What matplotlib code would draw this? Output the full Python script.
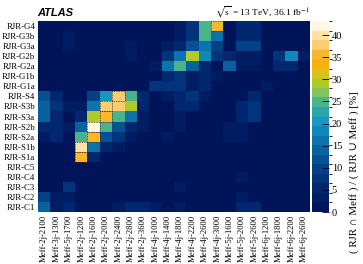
import numpy as np
import matplotlib
matplotlib.use("Agg")
import matplotlib.pyplot as plt
from matplotlib.colors import LinearSegmentedColormap, BoundaryNorm
from matplotlib.patches import Rectangle

plt.rcParams["mathtext.fontset"] = "stix"

x_labels = ["Meff-2j-2100", "Meff-3j-1300", "Meff-5j-1700", "Meff-2j-1200", "Meff-2j-1600",
            "Meff-2j-2000", "Meff-2j-2400", "Meff-2j-2800", "Meff-2j-3600", "Meff-4j-1000",
            "Meff-4j-1400", "Meff-4j-1800", "Meff-4j-2200", "Meff-4j-2600", "Meff-4j-3000",
            "Meff-5j-1600", "Meff-5j-2000", "Meff-5j-2600", "Meff-6j-1200", "Meff-6j-1800",
            "Meff-6j-2200", "Meff-6j-2600"]
y_labels = ["RJR-G4", "RJR-G3b", "RJR-G3a", "RJR-G2b", "RJR-G2a", "RJR-G1b", "RJR-G1a",
            "RJR-S4", "RJR-S3b", "RJR-S3a", "RJR-S2b", "RJR-S2a", "RJR-S1b", "RJR-S1a",
            "RJR-C5", "RJR-C4", "RJR-C3", "RJR-C2", "RJR-C1"]

# rows top (G4) to bottom (C1), 22 columns each
row_G4  = [1, 1, 2, 1, 1, 1, 1, 2, 1, 1, 2, 3, 8, 25, 36, 1, 5, 6, 1, 1, 1, 1]
row_G3b = [1, 1, 3, 1, 1, 1, 1, 2, 1, 1, 2, 4, 8, 24, 17, 1, 5, 5, 1, 1, 1, 1]
row_G3a = [1, 1, 3, 1, 1, 1, 1, 3, 1, 1, 3, 6, 12, 17, 9, 2, 10, 10, 2, 1, 1, 1]
row_G2b = [1, 1, 1, 1, 1, 1, 1, 3, 1, 2, 8, 17, 30, 18, 7, 6, 3, 3, 2, 8, 18, 3]
row_G2a = [1, 1, 1, 1, 1, 1, 1, 1, 1, 3, 17, 24, 14, 5, 2, 14, 3, 3, 2, 6, 6, 2]
row_G1b = [1, 1, 1, 1, 1, 1, 1, 1, 1, 2, 6, 8, 4, 6, 3, 2, 2, 2, 2, 2, 1, 1]
row_G1a = [1, 1, 1, 1, 1, 1, 1, 1, 1, 7, 8, 7, 3, 5, 2, 2, 2, 2, 3, 1, 1, 1]
row_S4  = [12, 5, 1, 1, 10, 20, 38, 24, 6, 2, 3, 5, 8, 3, 2, 2, 2, 6, 1, 1, 1, 1]
row_S3b = [15, 7, 3, 3, 17, 38, 38, 30, 6, 2, 2, 5, 6, 2, 2, 2, 5, 8, 1, 1, 1, 1]
row_S3a = [15, 6, 2, 5, 29, 36, 24, 17, 4, 2, 2, 4, 2, 2, 2, 2, 6, 7, 1, 1, 1, 1]
row_S2b = [5, 6, 3, 13, 43, 25, 11, 6, 3, 2, 2, 4, 2, 2, 2, 3, 4, 2, 1, 1, 1, 1]
row_S2a = [3, 6, 2, 24, 36, 12, 7, 4, 2, 2, 4, 2, 2, 2, 2, 4, 4, 2, 1, 1, 1, 1]
row_S1b = [2, 1, 1, 41, 16, 6, 3, 2, 1, 1, 2, 2, 2, 2, 1, 2, 2, 2, 1, 1, 1, 1]
row_S1a = [1, 1, 1, 36, 5, 2, 1, 1, 1, 1, 1, 1, 1, 1, 1, 1, 1, 1, 1, 1, 1, 1]
row_C5  = [1, 1, 2, 1, 1, 1, 1, 1, 1, 1, 1, 1, 1, 1, 1, 1, 1, 1, 1, 1, 1, 1]
row_C4  = [1, 1, 2, 1, 1, 1, 1, 1, 1, 1, 1, 2, 1, 1, 1, 1, 3, 1, 1, 1, 1, 1]
row_C3  = [1, 1, 8, 1, 1, 1, 1, 1, 1, 1, 1, 3, 1, 1, 1, 1, 1, 1, 1, 1, 1, 1]
row_C2  = [10, 3, 3, 1, 1, 1, 1, 1, 1, 1, 1, 1, 1, 1, 1, 1, 4, 1, 1, 1, 1, 1]
row_C1  = [14, 3, 5, 2, 1, 1, 4, 5, 5, 3, 1, 3, 1, 1, 1, 1, 6, 6, 1, 1, 1, 1]

data = np.array([row_G4, row_G3b, row_G3a, row_G2b, row_G2a, row_G1b, row_G1a,
                 row_S4, row_S3b, row_S3a, row_S2b, row_S2a, row_S1b, row_S1a,
                 row_C5, row_C4, row_C3, row_C2, row_C1], dtype=float)

zmax = 43.2
anchors = [(0.0, "#00145a"), (5 / zmax, "#012a72"), (10 / zmax, "#04478c"),
           (15 / zmax, "#0a6ea8"), (20 / zmax, "#1496c4"), (24 / zmax, "#34ae9e"),
           (27 / zmax, "#7cc260"), (30 / zmax, "#bccc1c"), (33 / zmax, "#f0b810"),
           (35 / zmax, "#ffa808"), (38 / zmax, "#ffc860"), (41 / zmax, "#ffe2a8"),
           (1.0, "#fff6e4")]
cmap = LinearSegmentedColormap.from_list("atlas", anchors)
levels = np.linspace(0, zmax, 21)
norm = BoundaryNorm(levels, cmap.N)

fig = plt.figure(figsize=(3.63, 2.64), dpi=100)
ax = fig.add_axes([38 / 363, 1 - 212 / 264, 272 / 363, 191 / 264])
cax = fig.add_axes([312 / 363, 1 - 212 / 264, 17 / 363, 191 / 264])

serif = ["Liberation Serif", "DejaVu Serif"]
im = ax.imshow(data, cmap=cmap, norm=norm, aspect="auto", interpolation="nearest")

# dotted outline around the best-matching cell of each signal row
for r in range(data.shape[0]):
    c = int(np.argmax(data[r]))
    if data[r, c] >= 35:
        ax.add_patch(Rectangle((c - 0.5, r - 0.5), 1, 1, fill=False, ls=(0, (1, 1)),
                               lw=0.6, ec="#333333"))

ax.set_xticks(np.arange(len(x_labels)))
ax.set_xticklabels(x_labels, rotation=90, fontsize=6.2, family=serif)
ax.set_yticks(np.arange(len(y_labels)))
ax.set_yticklabels(y_labels, fontsize=6.3, family=serif)
ax.tick_params(length=0, pad=2)
for s in ax.spines.values():
    s.set_visible(False)

cb = fig.colorbar(im, cax=cax, ticks=[0, 5, 10, 15, 20, 25, 30, 35, 40])
cb.outline.set_visible(False)
cax.tick_params(labelsize=7.5, length=5, width=0.6, direction="in", pad=2)
for t in cax.get_yticklabels():
    t.set_family(serif)
cax.set_ylim(0, zmax)

fig.text(354 / 363, 1 - 172 / 264, "( RJR \u2229 Meff ) / ( RJR \u222a Meff ) [%]",
         rotation=90, fontsize=7.8, family=serif, ha="center", va="center")
fig.text(37 / 363, 1 - 13 / 264, "ATLAS", fontsize=8, fontweight="bold",
         style="italic", family=["Liberation Sans", "DejaVu Sans"], ha="left", va="center")
fig.text(310 / 363, 1 - 12 / 264, r"$\sqrt{\rm s}$ = 13 TeV, 36.1 fb$^{-1}$",
         fontsize=6.8, family=serif, ha="right", va="center")

fig.savefig("out.png", dpi=100)
